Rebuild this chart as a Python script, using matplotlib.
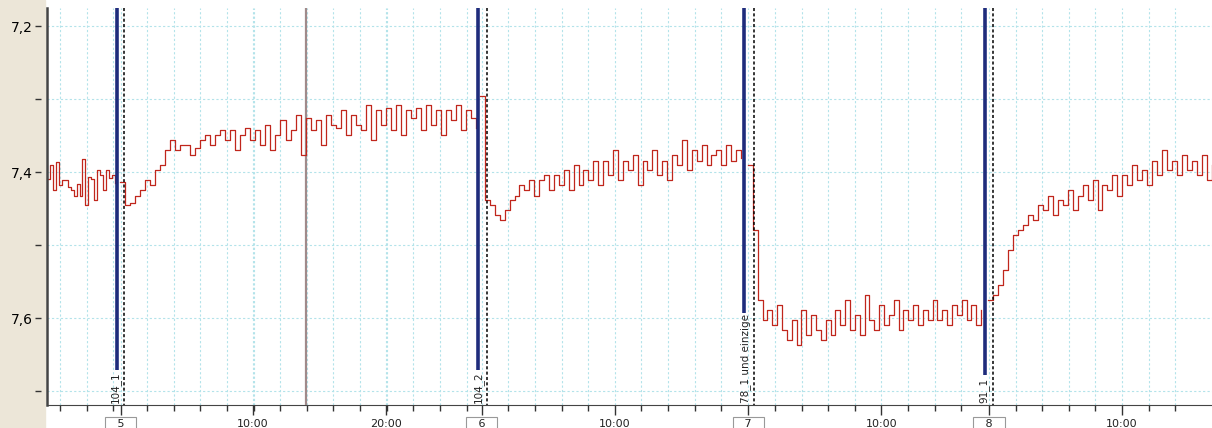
import matplotlib.pyplot as plt
import numpy as np

# pH readings per recording segment (axis is inverted: 7,2 on top)
ph_seg0 = [7.410, 7.390, 7.425, 7.386, 7.418, 7.411, 7.411, 7.420, 7.425, 7.432, 7.416, 7.432,
           7.382, 7.445, 7.406, 7.410, 7.438, 7.397, 7.404, 7.425, 7.397, 7.408, 7.404, 7.415]
ph_seg1 = [7.414, 7.445, 7.442, 7.432, 7.425, 7.411, 7.418, 7.397, 7.390, 7.370, 7.356, 7.370,
           7.363, 7.363, 7.377, 7.367, 7.356, 7.349, 7.363, 7.349, 7.342, 7.356, 7.342, 7.370,
           7.349, 7.340, 7.356, 7.342, 7.363, 7.336, 7.370, 7.349, 7.329, 7.356, 7.342, 7.322,
           7.377, 7.326, 7.342, 7.329, 7.363, 7.322, 7.336, 7.340, 7.315, 7.349, 7.322, 7.336,
           7.342, 7.308, 7.356, 7.315, 7.336, 7.312, 7.342, 7.308, 7.349, 7.315, 7.326, 7.312,
           7.342, 7.308, 7.336, 7.315, 7.349, 7.315, 7.329, 7.308, 7.342, 7.315, 7.326, 7.340]
ph_seg2 = [7.295, 7.438, 7.445, 7.459, 7.466, 7.452, 7.438, 7.432, 7.418, 7.425, 7.411, 7.432,
           7.411, 7.404, 7.425, 7.404, 7.418, 7.397, 7.425, 7.390, 7.418, 7.397, 7.411, 7.384,
           7.418, 7.384, 7.404, 7.370, 7.411, 7.384, 7.397, 7.377, 7.418, 7.384, 7.397, 7.370,
           7.404, 7.384, 7.411, 7.377, 7.390, 7.356, 7.397, 7.370, 7.384, 7.363, 7.390, 7.377,
           7.370, 7.390, 7.363, 7.384, 7.370, 7.381]
ph_seg3 = [7.390, 7.479, 7.575, 7.603, 7.589, 7.610, 7.582, 7.616, 7.630, 7.603, 7.637, 7.589,
           7.623, 7.596, 7.616, 7.630, 7.603, 7.623, 7.589, 7.610, 7.575, 7.616, 7.596, 7.623,
           7.568, 7.603, 7.616, 7.582, 7.610, 7.596, 7.575, 7.616, 7.589, 7.603, 7.582, 7.610,
           7.589, 7.603, 7.575, 7.603, 7.589, 7.610, 7.582, 7.596, 7.575, 7.603, 7.582, 7.610,
           7.589]
ph_seg4 = [7.575, 7.568, 7.555, 7.534, 7.507, 7.486, 7.479, 7.473, 7.459, 7.466, 7.445, 7.452,
           7.432, 7.459, 7.438, 7.445, 7.425, 7.452, 7.432, 7.418, 7.438, 7.411, 7.452, 7.418,
           7.425, 7.404, 7.432, 7.404, 7.418, 7.390, 7.411, 7.397, 7.418, 7.384, 7.404, 7.370,
           7.397, 7.384, 7.404, 7.377, 7.397, 7.384, 7.404, 7.377, 7.411, 7.390]
segments = [ph_seg0, ph_seg1, ph_seg2, ph_seg3, ph_seg4]
# start / end of each segment in hours from day 5
seg_hours = [(-5.49, -0.38), (0.0, 26.77), (27.07, 46.69), (47.22, 64.74), (65.26, 82.1)]

day_labels = ['5', '6', '7', '8']
day_hours = [0.05, 27.2, 47.24, 65.34]
clock_labels = ['10:00', '20:00', '10:00', '10:00', '10:00']
clock_hours = [10.0, 20.0, 37.2, 57.24, 75.34]

event_labels = ['104_1', '104_2', '78_1 und einzige', '91_1']
event_blue_hours = [-0.23, 26.92, 46.92, 65.04]
event_blue_end = [7.671, 7.671, 7.593, 7.678]
event_dash_hours = [0.30, 27.57, 47.69, 65.61]
marker_hour = 13.96

y_ticks = [7.2, 7.3, 7.4, 7.5, 7.6, 7.7]
y_labels = ['7,2', '', '7,4', '', '7,6', '']

xmin, xmax = -5.49, 82.1
ytop, ybot = 7.175, 7.719

fig = plt.figure(figsize=(12.12, 4.28), dpi=100)
fig.patches.append(plt.Rectangle((0, 0), 45 / 1212, 1, transform=fig.transFigure,
                                 color='#ece6d8', zorder=-1))
ax = fig.add_axes([47 / 1212, 1 - 405 / 428, 1 - 47 / 1212, 397 / 428])

for vals, (h0, h1) in zip(segments, seg_hours):
    x = np.linspace(h0, h1, len(vals))
    ax.step(x, vals, where='post', color='#c0261c', lw=0.9, zorder=4)

ax.vlines(event_blue_hours, ytop, event_blue_end, color='#1f2c7c', lw=2.6, zorder=5)
ax.vlines(event_dash_hours, ytop, ybot, color='black', lw=1.1, linestyles=(0, (2, 1.5)), zorder=5)
ax.axvline(marker_hour, color='#a08a8a', lw=1.6, zorder=3)
for lab, h in zip(event_labels, event_dash_hours):
    ax.text(h - 0.25, 7.716, lab, rotation=90, ha='right', va='bottom',
            fontsize=7.5, color='#222222', zorder=6)

ax.set_xlim(xmin, xmax)
ax.set_ylim(ybot, ytop)

# ticks
major_pos = day_hours + clock_hours
major_lab = ['   ' + d + '   ' for d in day_labels] + clock_labels
order = np.argsort(major_pos)
ax.set_xticks([major_pos[i] for i in order])
ax.set_xticklabels([major_lab[i] for i in order], fontsize=8, color='#222222')
minor = [-4.5, -2.5, -0.5]
bounds = day_hours + [xmax]
for i in range(len(day_hours)):
    minor += [t for t in np.arange(day_hours[i] + 2, bounds[i + 1] - 1, 2) if t not in clock_hours]
ax.set_xticks(minor, minor=True)
for lbl in ax.get_xticklabels():
    if lbl.get_text().strip() in day_labels:
        lbl.set_bbox(dict(boxstyle='square,pad=0.15', facecolor='white', edgecolor='#999999', lw=0.8))
ax.tick_params(axis='x', which='major', length=7, width=1, color='#333333', pad=3)
ax.tick_params(axis='x', which='minor', length=4, width=1, color='#333333')

ax.set_yticks(y_ticks)
ax.set_yticklabels(y_labels, fontsize=9, color='#333333')
ax.tick_params(axis='y', length=4, width=1, color='#333333', pad=2.5)
ax.spines['left'].set_position(('outward', 4))
ax.spines['left'].set_visible(False)
ax.axvline(xmin, color='#444444', lw=1.8, zorder=6, clip_on=False)

for s in ['top', 'right']:
    ax.spines[s].set_visible(False)
ax.spines['bottom'].set_color('#444444')

ax.grid(True, which='both', axis='x', color='#b3e3ea', lw=0.8, linestyle=(0, (2, 2)))
ax.grid(True, which='major', axis='y', color='#b3e3ea', lw=0.8, linestyle=(0, (2, 2)))
ax.set_axisbelow(True)

plt.savefig('out.png', dpi=100)
